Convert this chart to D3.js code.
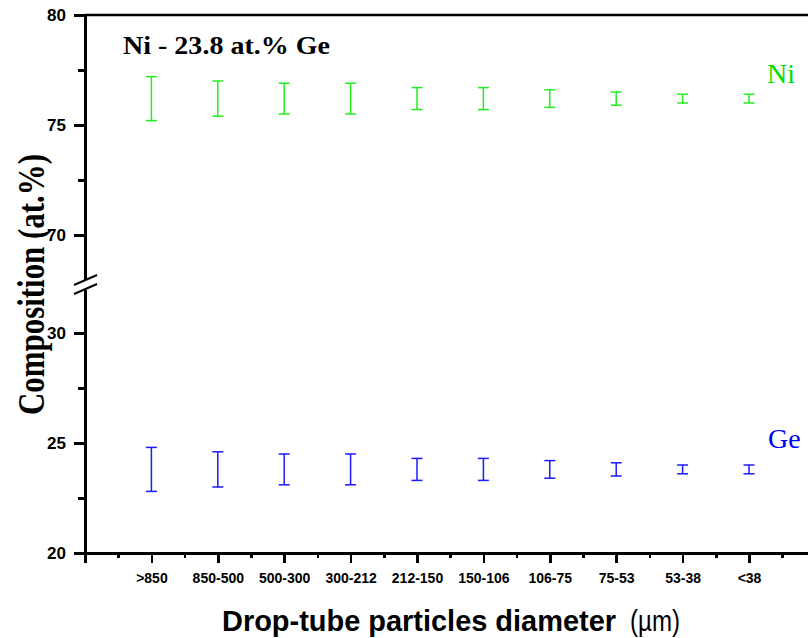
<!DOCTYPE html>
<meta charset="utf-8">
<style>
body { margin: 0; background-color: #fff; }
.axis path, .axis line { fill: none; stroke: #000; stroke-width: 2.5px; shape-rendering: crispEdges; }
.axis text { font: bold 17px "Liberation Sans", Arial, sans-serif; fill: #000; }
.axis--x text { font-size: 14px; }
.bar { stroke-width: 1.5px; fill: none; }
</style>
<body>
<svg width="808" height="638"></svg>
<script src="https://d3js.org/d3.v7.min.js"></script>
<script>
var svg = d3.select("svg");

// particle size classes (um)
var categories = [">850", "850-500", "500-300", "300-212", "212-150", "150-106", "106-75", "75-53", "53-38", "<38"];
var niMean = [76.2, 76.2, 76.2, 76.2, 76.2, 76.2, 76.2, 76.2, 76.2, 76.2];
var niErr  = [1.0, 0.8, 0.7, 0.7, 0.5, 0.5, 0.4, 0.3, 0.2, 0.2];
var geMean = [23.8, 23.8, 23.8, 23.8, 23.8, 23.8, 23.8, 23.8, 23.8, 23.8];
var geErr  = [1.0, 0.8, 0.7, 0.7, 0.5, 0.5, 0.4, 0.3, 0.2, 0.2];
var yTopTicks = [70, 75, 80], yTopMinor = [72.5, 77.5];
var yBotTicks = [20, 25, 30], yBotMinor = [22.5, 27.5];

var left = 85, bottom = 553;

var x = d3.scaleLinear().domain([0, 11]).range([left, left + 11 * 66.4]);
var yTop = d3.scaleLinear().domain([68, 80]).range([279, 15]);
var yBot = d3.scaleLinear().domain([20, 32]).range([553, 289]);

// x axis: major ticks at whole positions, minor at halves
var xMajor = d3.range(0, 12), xMinor = d3.range(0.5, 11, 1);
svg.append("g")
    .attr("class", "axis axis--x")
    .attr("transform", "translate(0," + bottom + ")")
    .call(d3.axisBottom(x).tickValues(xMajor).tickSize(10).tickSizeOuter(0)
      .tickFormat(function(d) { return categories[d - 1] || ""; }))
    .call(function(g) { g.selectAll(".tick text").attr("y", 30).attr("dy", 0); });
svg.append("g")
    .attr("class", "axis axis--x-minor")
    .attr("transform", "translate(0," + bottom + ")")
    .call(d3.axisBottom(x).tickValues(xMinor).tickSize(5).tickFormat(""))
    .call(function(g) { g.select(".domain").remove(); });

// broken y axis
function yAxis(scale, major, minor) {
  svg.append("g")
      .attr("class", "axis axis--y")
      .attr("transform", "translate(" + left + ",0)")
      .call(d3.axisLeft(scale).tickValues(major).tickSize(11).tickSizeOuter(0).tickPadding(8));
  svg.append("g")
      .attr("class", "axis axis--y-minor")
      .attr("transform", "translate(" + left + ",0)")
      .call(d3.axisLeft(scale).tickValues(minor).tickSize(7).tickFormat(""))
      .call(function(g) { g.select(".domain").remove(); });
}
yAxis(yTop, yTopTicks, yTopMinor);
yAxis(yBot, yBotTicks, yBotMinor);

// top frame line
svg.append("line")
    .attr("x1", left).attr("x2", 808)
    .attr("y1", yTop(80)).attr("y2", yTop(80))
    .attr("stroke", "#000").attr("stroke-width", 2.5);

// break marks
[0, 9].forEach(function(off) {
  svg.append("line")
      .attr("x1", 74).attr("y1", 285 + off)
      .attr("x2", 97).attr("y2", 275 + off)
      .attr("stroke", "#000").attr("stroke-width", 2);
});

// error bars
function errorBars(mean, err, scale, color) {
  var g = svg.append("g").attr("stroke", color);
  mean.forEach(function(m, i) {
    var cx = x(i + 1), hi = scale(m + err[i]), lo = scale(m - err[i]);
    g.append("line").attr("class", "bar").attr("x1", cx).attr("x2", cx).attr("y1", hi).attr("y2", lo);
    g.append("line").attr("class", "bar").attr("x1", cx - 5.5).attr("x2", cx + 5.5).attr("y1", hi).attr("y2", hi);
    g.append("line").attr("class", "bar").attr("x1", cx - 5.5).attr("x2", cx + 5.5).attr("y1", lo).attr("y2", lo);
  });
}
errorBars(niMean, niErr, yTop, "#22ee22");
errorBars(geMean, geErr, yBot, "#1a1aff");

// labels
svg.append("text")
    .attr("x", 123).attr("y", 54)
    .attr("textLength", 207).attr("lengthAdjust", "spacingAndGlyphs")
    .style("font", "bold 25px 'Liberation Serif', 'Times New Roman', serif")
    .text("Ni - 23.8 at.% Ge");

svg.append("text")
    .attr("x", 767).attr("y", 83)
    .attr("fill", "#00dd00")
    .style("font", "28px 'Liberation Serif', serif")
    .text("Ni");

svg.append("text")
    .attr("x", 768).attr("y", 448)
    .attr("fill", "#0000ff")
    .style("font", "28px 'Liberation Serif', serif")
    .text("Ge");

svg.append("text")
    .attr("transform", "translate(44,415) rotate(-90)")
    .attr("textLength", 261).attr("lengthAdjust", "spacingAndGlyphs")
    .style("font", "bold 37px 'Liberation Serif', 'Times New Roman', serif")
    .text("Composition (at.%)");

svg.append("text")
    .attr("x", 222).attr("y", 631)
    .attr("textLength", 394).attr("lengthAdjust", "spacingAndGlyphs")
    .style("font", "bold 30px 'Liberation Sans', Arial, sans-serif")
    .text("Drop-tube particles diameter");
svg.append("text")
    .attr("x", 630).attr("y", 631)
    .attr("textLength", 50).attr("lengthAdjust", "spacingAndGlyphs")
    .style("font", "30px 'Liberation Sans', Arial, sans-serif")
    .text("(\u00b5m)");
</script>
